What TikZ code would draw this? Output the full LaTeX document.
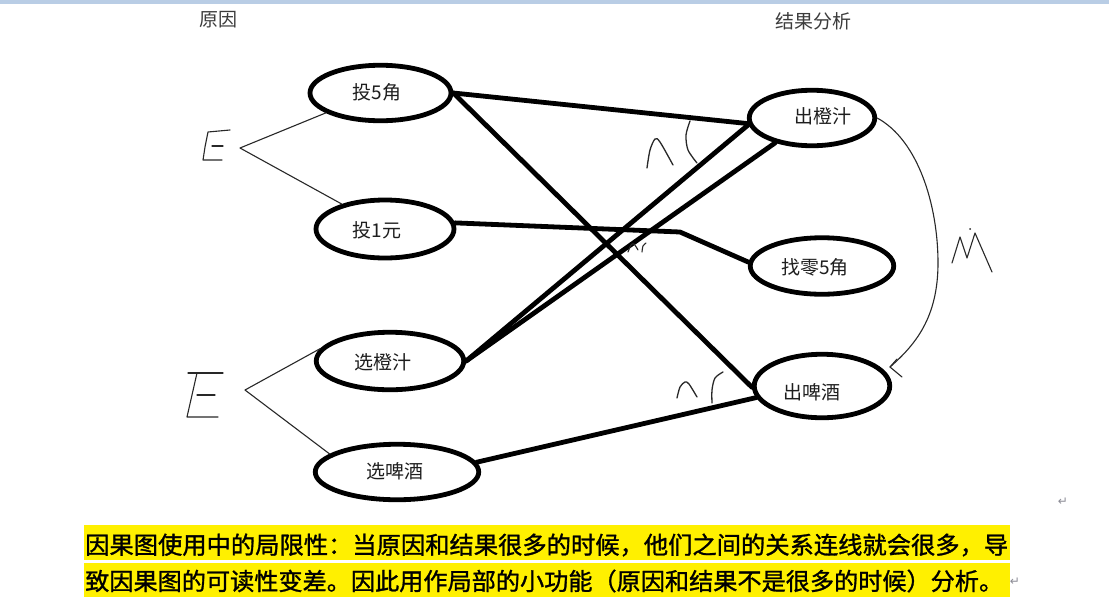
\documentclass[tikz,border=0pt]{standalone}
\usepackage{fontspec}
\usepackage{graphicx}
\newfontfamily\cjk{Noto Sans CJK SC}
\newfontfamily\cjkbold[FakeBold=1.2]{Noto Sans CJK SC}
\newfontfamily\djv{DejaVu Sans}
\usetikzlibrary{shapes.geometric}
\definecolor{topbar}{RGB}{185,205,229}
\definecolor{hl}{RGB}{255,240,0}
\definecolor{ink}{RGB}{30,30,30}
\definecolor{headink}{RGB}{60,60,60}
\definecolor{pen}{RGB}{40,40,40}
\definecolor{retgray}{RGB}{140,140,150}
\begin{document}
\begin{tikzpicture}[x=1pt,y=-1pt,
  oval/.style={draw=black, line width=4.8pt, ellipse, inner sep=0pt},
  lbl/.style={font=\cjk\fontsize{19}{19}\selectfont, text=ink, inner sep=0pt},
  head/.style={font=\cjk\fontsize{19}{19}\selectfont, text=headink, inner sep=0pt},
  link/.style={line width=4.8pt, line cap=round, line join=round},
  hand/.style={draw=pen, line width=1.3pt, line cap=round, line join=round},
  thin/.style={draw=pen, line width=1.1pt, line cap=round, line join=round},
  note/.style={font=\cjkbold\fontsize{24}{24}\selectfont, text=black, inner sep=0pt, anchor=west},
  hlbar/.style={fill=hl, draw=none},
  ret/.style={font=\djv\fontsize{12}{12}\selectfont, text=retgray, inner sep=0pt}
]
\fill[white] (0,0) rectangle (1109,603);
\useasboundingbox (0,0) rectangle (1109,603);
\fill[topbar] (0,0) rectangle (1109,4);

% headings
\node[head] (hcause) at (218,20) {原因};
\node[head] (heffect) at (813,21) {结果分析};

% ellipses
\node[oval, minimum width=141pt, minimum height=55.5pt] (t5) at (380.5,93) {};
\node[oval, minimum width=138pt, minimum height=58pt] (t1) at (385,229) {};
\node[oval, minimum width=147.5pt, minimum height=57.5pt] (o1) at (390,361) {};
\node[oval, minimum width=163.5pt, minimum height=55.5pt] (s2) at (397,472) {};
\node[oval, minimum width=125.5pt, minimum height=55.5pt] (c1) at (812,118) {};
\node[oval, minimum width=143.5pt, minimum height=56.5pt] (z5) at (822,266) {};
\node[oval, minimum width=135.5pt, minimum height=63.5pt] (b1) at (822,386) {};

% labels
\node[lbl] (t5t) at (377,92) {投5角};
\node[lbl] (t1t) at (377,230) {投1元};
\node[lbl] (o1t) at (383,362) {选橙汁};
\node[lbl] (s2t) at (395,471) {选啤酒};
\node[lbl] (c1t) at (823,116) {出橙汁};
\node[lbl] (z5t) at (815,267) {找零5角};
\node[lbl] (b1t) at (812,392) {出啤酒};

% thick connectors
\coordinate (k) at (680,232);
\draw[link] (t5.east) -- (c1.185);
\draw[link] (t5.east) -- (b1.181);
\draw[link] (t1.5) -- (k) -- (z5.177);
\draw[link] (o1.east) -- (c1.186);
\draw[link] (o1.east) -- (c1.214);
\draw[link] (s2.7) -- (b1.190);

% hand-drawn AND marks
\draw[hand] plot[smooth] coordinates {(647,168) (650,150) (655,139) (660,142) (673,165)};
\draw[hand] plot[smooth] coordinates {(690,121) (686,135) (688,150) (697,163)};
\draw[thin] plot[smooth] coordinates {(628,252) (631,245) (634,244) (638,250)};
\draw[thin] plot[smooth] coordinates {(642,252) (643,246) (646,243)};
\draw[hand] plot[smooth] coordinates {(677,398) (680,387) (685,382) (689,384) (697,397)};
\draw[hand] plot[smooth] coordinates {(712,403) (712,390) (715,378) (723,372)};

% M mark and curved arrow
\draw[thin] (952,263) -- (960,237) -- (967,258) -- (975,233) -- (992,272);
\fill[pen] (970,229) circle (1pt);
\coordinate (tip) at (890,367);
\draw[thin] (c1.east) .. controls (918,140) and (938,205) .. (938,263)
   .. controls (938,318) and (915,345) .. (tip);
\draw[thin] (897,359) -- (tip) -- (902,377);

% E marks with branches
\draw[thin] (230,130) -- (208,132) -- (205,147) -- (203,160) -- (222,160);
\draw[thin] (212,146) -- (223,146);
\coordinate (e1) at (240,148);
\draw[thin] (t5.200) -- (e1) -- (t1.150);
\draw[thin] (223,373) -- (188,373);
\draw[thin] (197,373) -- (187,417) -- (218,417);
\draw[thin] (197,395) -- (215,395);
\coordinate (e2) at (245,390);
\draw[thin] (o1.170) -- (e2) -- (s2.165);

% bottom highlighted note
\fill[hlbar] (84,525) rectangle (1010,560);
\fill[hlbar] (84,563) rectangle (1010,597);
\node[note] (n1) at (85,545) {\resizebox{923pt}{\height}{因果图使用中的局限性：当原因和结果很多的时候，他们之间的关系连线就会很多，导}};
\node[note] (n2) at (85,581) {\resizebox{918pt}{\height}{致因果图的可读性变差。因此用作局部的小功能（原因和结果不是很多的时候）分析。}};
\node[ret] (r1) at (1015,582) {↵};
\node[ret] (r2) at (1063,502) {↵};
\end{tikzpicture}
\end{document}
